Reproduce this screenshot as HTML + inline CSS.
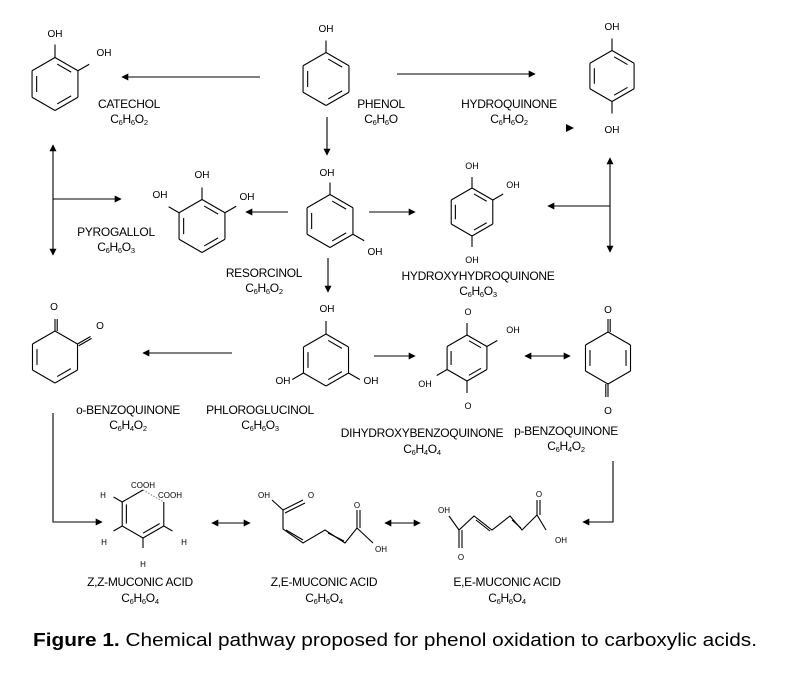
<!DOCTYPE html>
<html><head><meta charset="utf-8"><style>
html,body{margin:0;padding:0;background:#fff}
svg{display:block}
text{font-family:"Liberation Sans",Arial,sans-serif;fill:#000}
.l{font-size:12px;text-anchor:middle;letter-spacing:-0.3px}
.a{font-size:10px;text-anchor:middle}
.s{font-size:7.5px}
</style></head><body>
<svg id="s" width="789" height="682" viewBox="0 0 789 682" xmlns="http://www.w3.org/2000/svg">
<defs><marker id="ah" viewBox="0 0 10 10" refX="9" refY="5" markerWidth="7" markerHeight="7" markerUnits="userSpaceOnUse" orient="auto-start-reverse"><path d="M0,0L10,5L0,10z" fill="#000"/></marker></defs>
<g id="g" stroke="#000" stroke-width="1.1" fill="none"></g>
<g stroke="#000" stroke-width="1.1" fill="none">
<line x1="260" y1="77" x2="122" y2="77" marker-end="url(#ah)"/>
<line x1="397" y1="74" x2="535" y2="74" marker-end="url(#ah)"/>
<line x1="327" y1="117" x2="327" y2="155" marker-end="url(#ah)"/>
<line x1="53" y1="145" x2="53" y2="255" marker-start="url(#ah)" marker-end="url(#ah)"/>
<line x1="53" y1="199" x2="121" y2="199" marker-end="url(#ah)"/>
<line x1="288" y1="212" x2="246" y2="212" marker-end="url(#ah)"/>
<line x1="369" y1="212" x2="415" y2="212" marker-end="url(#ah)"/>
<line x1="328" y1="258" x2="328" y2="292" marker-end="url(#ah)"/>
<line x1="610" y1="158" x2="610" y2="252" marker-start="url(#ah)" marker-end="url(#ah)"/>
<line x1="610" y1="206" x2="548" y2="206" marker-end="url(#ah)"/>
<line x1="232" y1="353" x2="143" y2="353" marker-end="url(#ah)"/>
<line x1="374" y1="356" x2="415" y2="356" marker-end="url(#ah)"/>
<line x1="525" y1="356" x2="570" y2="356" marker-start="url(#ah)" marker-end="url(#ah)"/>
<polyline points="53,413 53,522 102,522" marker-end="url(#ah)"/>
<polyline points="613,461 613,522 583,522" marker-end="url(#ah)"/>
<line x1="212" y1="523" x2="250" y2="523" marker-start="url(#ah)" marker-end="url(#ah)"/>
<line x1="385" y1="523" x2="420" y2="523" marker-start="url(#ah)" marker-end="url(#ah)"/>
<path d="M566,124 L574,128 L566,132z" fill="#000" stroke="none"/>
<polyline points="272,500 283,510 283,529 303,543 325,530 345,543 357,528 373,543"/>
<line x1="283" y1="510" x2="303" y2="500"/><line x1="285" y1="513" x2="305" y2="503"/>
<line x1="286" y1="530" x2="303" y2="540"/>
<line x1="328" y1="533" x2="344" y2="541"/>
<line x1="357" y1="528" x2="357" y2="510"/><line x1="360" y1="528" x2="360" y2="510"/>
<polyline points="449,516 459,530 474,516 492,530 510,516 522,530 537,515 546,530"/>
<line x1="459" y1="530" x2="459" y2="548"/><line x1="462" y1="530" x2="462" y2="548"/>
<line x1="476" y1="520" x2="490" y2="531"/>
<line x1="512" y1="520" x2="521" y2="528"/>
<line x1="537" y1="515" x2="537" y2="500"/><line x1="540" y1="515" x2="540" y2="500"/>
</g>
<g class="a">
<text x="55" y="37">OH</text><text x="104" y="56">OH</text>
<text x="326" y="32">OH</text>
<text x="612" y="30">OH</text><text x="612" y="133">OH</text>
<text x="327" y="176">OH</text><text x="375" y="255">OH</text>
<text x="202" y="178">OH</text><text x="160" y="198">OH</text><text x="247" y="200">OH</text>
<text x="472" y="169" style="font-size:9px">OH</text><text x="513" y="188" style="font-size:9px">OH</text><text x="472" y="263" style="font-size:9px">OH</text>
<text x="54" y="310">O</text><text x="100" y="329">O</text>
<text x="327" y="312">OH</text><text x="283" y="384">OH</text><text x="371" y="384">OH</text>
<text x="468" y="315" style="font-size:9px">O</text><text x="468" y="409" style="font-size:9px">O</text><text x="513" y="333" style="font-size:9px">OH</text><text x="425" y="387" style="font-size:9px">OH</text>
<text x="608" y="313">O</text><text x="608" y="414">O</text>
<text x="143" y="488" style="font-size:8px">COOH</text><text x="170" y="498" style="font-size:8px">COOH</text>
<text x="103" y="498" style="font-size:8px">H</text><text x="104" y="545" style="font-size:8px">H</text><text x="184" y="545" style="font-size:8px">H</text><text x="143" y="567" style="font-size:8px">H</text>
<text x="264" y="498" style="font-size:8px">OH</text><text x="311" y="498" style="font-size:8px">O</text><text x="357" y="508" style="font-size:8px">O</text><text x="381" y="552" style="font-size:8px">OH</text>
<text x="444" y="513" style="font-size:8px">OH</text><text x="461" y="560" style="font-size:8px">O</text><text x="539" y="497" style="font-size:8px">O</text><text x="561" y="543" style="font-size:8px">OH</text>
</g>
<g class="l">
<text x="129" y="108">CATECHOL</text><text x="129" y="123">C<tspan class="s" dy="2">6</tspan><tspan dy="-2">H</tspan><tspan class="s" dy="2">6</tspan><tspan dy="-2">O</tspan><tspan class="s" dy="2">2</tspan></text>
<text x="381" y="108">PHENOL</text><text x="381" y="123">C<tspan class="s" dy="2">6</tspan><tspan dy="-2">H</tspan><tspan class="s" dy="2">6</tspan><tspan dy="-2">O</tspan></text>
<text x="509" y="108">HYDROQUINONE</text><text x="509" y="123">C<tspan class="s" dy="2">6</tspan><tspan dy="-2">H</tspan><tspan class="s" dy="2">6</tspan><tspan dy="-2">O</tspan><tspan class="s" dy="2">2</tspan></text>
<text x="116" y="236">PYROGALLOL</text><text x="116" y="251">C<tspan class="s" dy="2">6</tspan><tspan dy="-2">H</tspan><tspan class="s" dy="2">6</tspan><tspan dy="-2">O</tspan><tspan class="s" dy="2">3</tspan></text>
<text x="264" y="277">RESORCINOL</text><text x="264" y="292">C<tspan class="s" dy="2">6</tspan><tspan dy="-2">H</tspan><tspan class="s" dy="2">6</tspan><tspan dy="-2">O</tspan><tspan class="s" dy="2">2</tspan></text>
<text x="478" y="280">HYDROXYHYDROQUINONE</text><text x="478" y="295">C<tspan class="s" dy="2">6</tspan><tspan dy="-2">H</tspan><tspan class="s" dy="2">6</tspan><tspan dy="-2">O</tspan><tspan class="s" dy="2">3</tspan></text>
<text x="128" y="414">o-BENZOQUINONE</text><text x="128" y="429">C<tspan class="s" dy="2">6</tspan><tspan dy="-2">H</tspan><tspan class="s" dy="2">4</tspan><tspan dy="-2">O</tspan><tspan class="s" dy="2">2</tspan></text>
<text x="260" y="414">PHLOROGLUCINOL</text><text x="260" y="429">C<tspan class="s" dy="2">6</tspan><tspan dy="-2">H</tspan><tspan class="s" dy="2">6</tspan><tspan dy="-2">O</tspan><tspan class="s" dy="2">3</tspan></text>
<text x="422" y="437">DIHYDROXYBENZOQUINONE</text><text x="422" y="453">C<tspan class="s" dy="2">6</tspan><tspan dy="-2">H</tspan><tspan class="s" dy="2">4</tspan><tspan dy="-2">O</tspan><tspan class="s" dy="2">4</tspan></text>
<text x="566" y="435">p-BENZOQUINONE</text><text x="566" y="450">C<tspan class="s" dy="2">6</tspan><tspan dy="-2">H</tspan><tspan class="s" dy="2">4</tspan><tspan dy="-2">O</tspan><tspan class="s" dy="2">2</tspan></text>
<text x="140" y="586">Z,Z-MUCONIC ACID</text><text x="140" y="602">C<tspan class="s" dy="2">6</tspan><tspan dy="-2">H</tspan><tspan class="s" dy="2">6</tspan><tspan dy="-2">O</tspan><tspan class="s" dy="2">4</tspan></text>
<text x="324" y="586">Z,E-MUCONIC ACID</text><text x="324" y="602">C<tspan class="s" dy="2">6</tspan><tspan dy="-2">H</tspan><tspan class="s" dy="2">6</tspan><tspan dy="-2">O</tspan><tspan class="s" dy="2">4</tspan></text>
<text x="507" y="586">E,E-MUCONIC ACID</text><text x="507" y="602">C<tspan class="s" dy="2">6</tspan><tspan dy="-2">H</tspan><tspan class="s" dy="2">6</tspan><tspan dy="-2">O</tspan><tspan class="s" dy="2">4</tspan></text>
</g>
<text x="33" y="646" style="font-size:18px" textLength="724" lengthAdjust="spacingAndGlyphs"><tspan font-weight="bold">Figure 1.</tspan> Chemical pathway proposed for phenol oxidation to carboxylic acids.</text>
</svg>
<script>
var g=document.getElementById('g'),NS='http://www.w3.org/2000/svg';
function L(a,b,c,d,dash){var e=document.createElementNS(NS,'line');e.setAttribute('x1',a);e.setAttribute('y1',b);e.setAttribute('x2',c);e.setAttribute('y2',d);if(dash){e.setAttribute('stroke-dasharray','1.5,1.5');e.setAttribute('stroke','#888')}g.appendChild(e);}
function V(cx,cy,r,i){var t=(-90+60*i)*Math.PI/180;return[cx+r*Math.cos(t),cy+r*Math.sin(t)];}
function ring(cx,cy,r,dbl,subs,len){len=len||12;
 for(var i=0;i<6;i++){var a=V(cx,cy,r,i),b=V(cx,cy,r,(i+1)%6);L(a[0],a[1],b[0],b[1]);
  if(dbl.indexOf(i)>=0){var a2=V(cx,cy,r*0.8,i),b2=V(cx,cy,r*0.8,(i+1)%6);var k=0.12;
   L(a2[0]+(b2[0]-a2[0])*k,a2[1]+(b2[1]-a2[1])*k,b2[0]-(b2[0]-a2[0])*k,b2[1]-(b2[1]-a2[1])*k);}}
 (subs||[]).forEach(function(s){var i=s[0],l=s[1]||len,a=V(cx,cy,r,i),b=V(cx,cy,r+l,i);L(a[0],a[1],b[0],b[1]);
  if(s[2]){var o=2.2,t=(-90+60*i)*Math.PI/180,px=-Math.sin(t)*o,py=Math.cos(t)*o;L(a[0]+px,a[1]+py,b[0]+px,b[1]+py);}});}
ring(55,84,26.5,[0,2,4],[[0,13],[1,13]]);
ring(326,79,26.5,[0,2,4],[[0,12]]);
ring(612,76,25.5,[0,2,4],[[0,12],[3,12]]);
ring(330,221,26.5,[0,2,4],[[0,12],[2,13]]);
ring(202,226,26.5,[0,2,4],[[0,12],[1,13],[5,12]]);
ring(472,212,24,[0,2,4],[[0,11],[1,12],[3,11]]);
ring(55,357,26,[2,4],[[0,12,1],[1,15,1]]);
ring(326,360,26,[0,2,4],[[0,13],[2,13],[4,13]]);
ring(467,358,23,[0,2,4],[[0,12],[1,12],[3,12],[4,12]]);
ring(608,358,26,[1,4],[[0,13,1],[3,13,1]]);
(function(){var cx=143,cy=514,r=24;
 for(var i=0;i<6;i++){var a=V(cx,cy,r,i),b=V(cx,cy,r,(i+1)%6);L(a[0],a[1],b[0],b[1],i==0);}
 var a=V(cx,cy,r*0.8,2),b=V(cx,cy,r*0.8,3);L(a[0],a[1],b[0],b[1]);a=V(cx,cy,r*0.8,4);b=V(cx,cy,r*0.8,5);L(a[0],a[1],b[0],b[1]);
 [[5,10],[4,10],[2,10],[3,10]].forEach(function(s){var a=V(cx,cy,r,s[0]),b=V(cx,cy,r+s[1],s[0]);L(a[0],a[1],b[0],b[1]);});})();
</script>
</body></html>
